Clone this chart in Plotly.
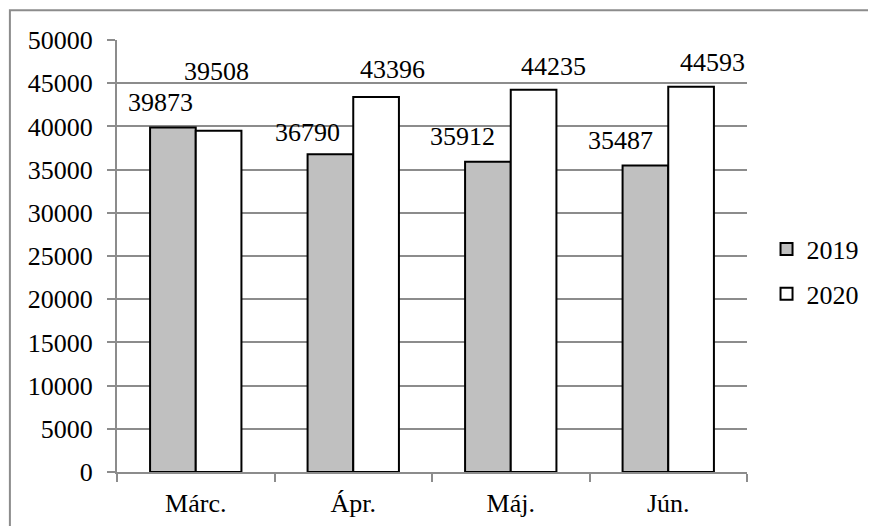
import plotly.graph_objects as go

months = ['Márc.', 'Ápr.', 'Máj.', 'Jún.']
values_2019 = [39873, 36790, 35912, 35487]
values_2020 = [39508, 43396, 44235, 44593]

# hand placed label offsets (pixels), like in the original chart
dx_2019 = [-35, -46, -48, -48]
dy_2019 = [25, 22, 25, 25]
dx_2020 = [21, 39, 43, 44]
dy_2020 = [59, 28, 23, 24]

font = dict(family='Times New Roman', size=26, color='black')
grid = '#8c8c8c'

fig = go.Figure()
fig.add_trace(go.Bar(
    x=months, y=values_2019, name='2019', legendgroup='a',
    marker=dict(color='#c0c0c0', line=dict(color='black', width=2))
))
fig.add_trace(go.Bar(
    x=months, y=values_2020, name='2020', legendgroup='b',
    marker=dict(color='white', line=dict(color='black', width=2))
))

for i, m in enumerate(months):
    fig.add_annotation(x=m, y=values_2019[i], text=str(values_2019[i]),
                       showarrow=False, xshift=dx_2019[i], yshift=dy_2019[i],
                       yanchor='middle', font=font)
    fig.add_annotation(x=m, y=values_2020[i], text=str(values_2020[i]),
                       showarrow=False, xshift=dx_2020[i], yshift=dy_2020[i],
                       yanchor='middle', font=font)

# outer chart border
fig.add_shape(type='rect', xref='paper', yref='paper',
              x0=-0.17, x1=1.25, y0=-0.2, y1=1.069,
              line=dict(color='#8c8c8c', width=2), layer='below')

# page body has an 8px margin, so the figure is 8px smaller
fig.update_layout(
    width=868, height=518,
    margin=dict(l=109, r=129, t=32, b=54, autoexpand=False),
    paper_bgcolor='white', plot_bgcolor='white',
    font=font,
    barmode='group', bargap=0.42, bargroupgap=0,
    showlegend=True,
    legend=dict(x=1.031, y=0.464, yanchor='middle', xanchor='left',
                traceorder='grouped', tracegroupgap=8,
                font=font, bgcolor='rgba(0,0,0,0)'),
    xaxis=dict(showline=True, linecolor=grid, linewidth=2,
               ticks='outside', tickson='boundaries', ticklen=8,
               tickcolor=grid, tickwidth=2, showgrid=False,
               ticklabelstandoff=7, tickfont=font, automargin=False),
    yaxis=dict(range=[0, 50000], dtick=5000, tickformat='d',
               showline=True, linecolor=grid, linewidth=2,
               ticks='outside', ticklen=8, tickcolor=grid, tickwidth=2,
               showgrid=True, gridcolor=grid, gridwidth=2, zeroline=False,
               ticklabelstandoff=9, tickfont=font, automargin=False),
)

fig.write_html('out.html')
